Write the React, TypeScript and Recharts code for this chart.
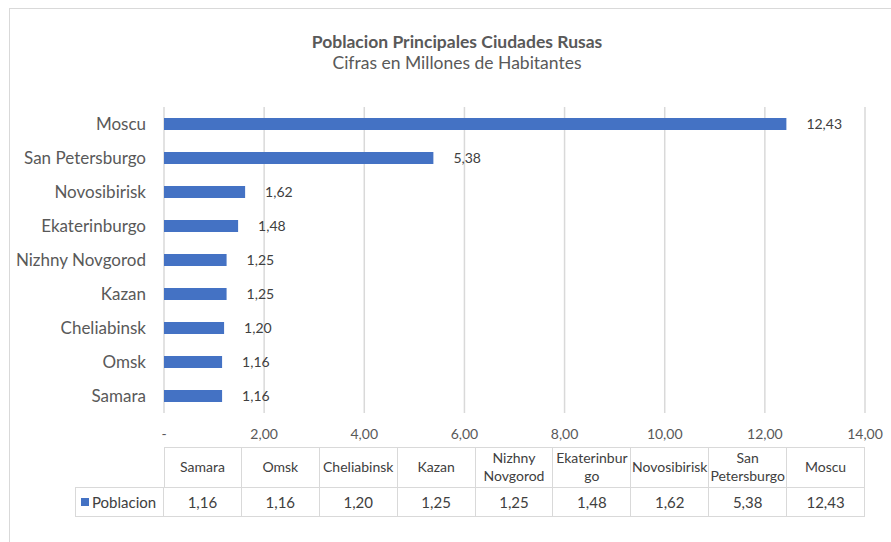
import { BarChart, Bar, XAxis, YAxis, CartesianGrid, LabelList } from "recharts";

// ciudades en el orden de la tabla (de menor a mayor)
const cities = ["Samara", "Omsk", "Cheliabinsk", "Kazan", "Nizhny Novgorod", "Ekaterinburgo", "Novosibirisk", "San Petersburgo", "Moscu"];
const population = [1.16, 1.16, 1.2, 1.25, 1.25, 1.48, 1.62, 5.38, 12.43];
const xTicks = [0, 2, 4, 6, 8, 10, 12, 14];

const seriesName = "Poblacion";
const title = "Poblacion Principales Ciudades Rusas";
const subtitle = "Cifras en Millones de Habitantes";

const data = cities.map((city, i) => ({ city, value: population[i] }));

const FONT = "Lato, 'Liberation Sans', sans-serif";
const BLUE = "#4472C4";
const GRID = "#D9D9D9";

const fmt = (v: number) => (v === 0 ? "-" : v.toFixed(2).replace(".", ","));

// plot area bounds (px)
const PLOT_LEFT = 164;
const PLOT_RIGHT = 865;
const colW = (PLOT_RIGHT - PLOT_LEFT) / cities.length;

const App = () => {
  return (
    <div
      style={{
        position: "absolute",
        left: 0,
        top: 0,
        width: 891,
        height: 542,
        overflow: "hidden",
        background: "#fff",
        fontFamily: FONT,
        color: "#595959",
      }}
    >
      {/* marco del grafico */}
      <div
        style={{
          position: "absolute",
          left: 9,
          top: 8,
          width: 920,
          height: 600,
          border: `1px solid ${GRID}`,
        }}
      />
      <div style={{ position: "absolute", left: 0, width: 914, top: 31, textAlign: "center", fontSize: 17.5, fontWeight: 700, lineHeight: "22px" }}>
        {title}
      </div>
      <div style={{ position: "absolute", left: 0, width: 914, top: 52, textAlign: "center", fontSize: 17.5, lineHeight: "22px" }}>
        {subtitle}
      </div>

      <div style={{ position: "absolute", left: 0, top: 0 }}>
        <BarChart
          width={891}
          height={542}
          data={data}
          layout="vertical"
          margin={{ top: 107, right: 26, bottom: 99, left: 14 }}
          barCategoryGap={11}
        >
          <CartesianGrid horizontal={false} stroke={GRID} strokeWidth={1.5} />
          <XAxis
            type="number"
            domain={[0, 14]}
            ticks={xTicks}
            tickFormatter={fmt}
            axisLine={false}
            tickLine={false}
            height={30}
            interval={0}
            tick={{ fontSize: 14, fill: "#595959", fontFamily: FONT }}
            tickMargin={10}
          />
          <YAxis
            type="category"
            dataKey="city"
            reversed
            width={150}
            axisLine={false}
            tickLine={false}
            interval={0}
            tickMargin={12}
            tick={{ fontSize: 17, fill: "#595959", fontFamily: FONT }}
          />
          <Bar dataKey="value" fill={BLUE} barSize={12} isAnimationActive={false}>
            <LabelList
              dataKey="value"
              position="right"
              offset={20}
              formatter={(v: any) => fmt(Number(v))}
              style={{ fontSize: 14, fill: "#404040", fontFamily: FONT }}
            />
          </Bar>
        </BarChart>
      </div>

      {/* tabla de datos */}
      <div style={{ position: "absolute", left: PLOT_LEFT, top: 447, width: PLOT_RIGHT - PLOT_LEFT, height: 40, borderTop: `1.5px solid ${GRID}`, borderLeft: `1.5px solid ${GRID}`, boxSizing: "border-box" }} />
      {cities.map((c, i) => (
        <div
          key={"h" + c}
          style={{
            position: "absolute",
            left: PLOT_LEFT + i * colW,
            top: 447,
            width: colW,
            height: 40,
            borderRight: `1.5px solid ${GRID}`,
            boxSizing: "border-box",
            display: "flex",
            alignItems: "center",
            justifyContent: "center",
            textAlign: "center",
            fontSize: 14,
            lineHeight: "18px",
            color: "#404040",
            overflowWrap: "anywhere",
          }}
        >
          {c}
        </div>
      ))}
      <div
        style={{
          position: "absolute",
          left: 75,
          top: 487,
          width: PLOT_RIGHT - 75,
          height: 30,
          border: `1.5px solid ${GRID}`,
          boxSizing: "border-box",
        }}
      />
      <div style={{ position: "absolute", left: 75, top: 487, width: PLOT_LEFT - 75, height: 30, borderRight: `1.5px solid ${GRID}`, boxSizing: "border-box", display: "flex", alignItems: "center", fontSize: 15, color: "#404040", whiteSpace: "nowrap" }}>
        <span style={{ display: "inline-block", width: 8, height: 8, background: BLUE, marginLeft: 6, marginRight: 3, flexShrink: 0 }} />
        {seriesName}
      </div>
      {population.map((v, i) => (
        <div
          key={"v" + i}
          style={{
            position: "absolute",
            left: PLOT_LEFT + i * colW,
            top: 487,
            width: colW,
            height: 30,
            borderRight: `1.5px solid ${GRID}`,
            boxSizing: "border-box",
            display: "flex",
            alignItems: "center",
            justifyContent: "center",
            fontSize: 15,
            color: "#404040",
          }}
        >
          {fmt(v)}
        </div>
      ))}
    </div>
  );
};

export default App;
